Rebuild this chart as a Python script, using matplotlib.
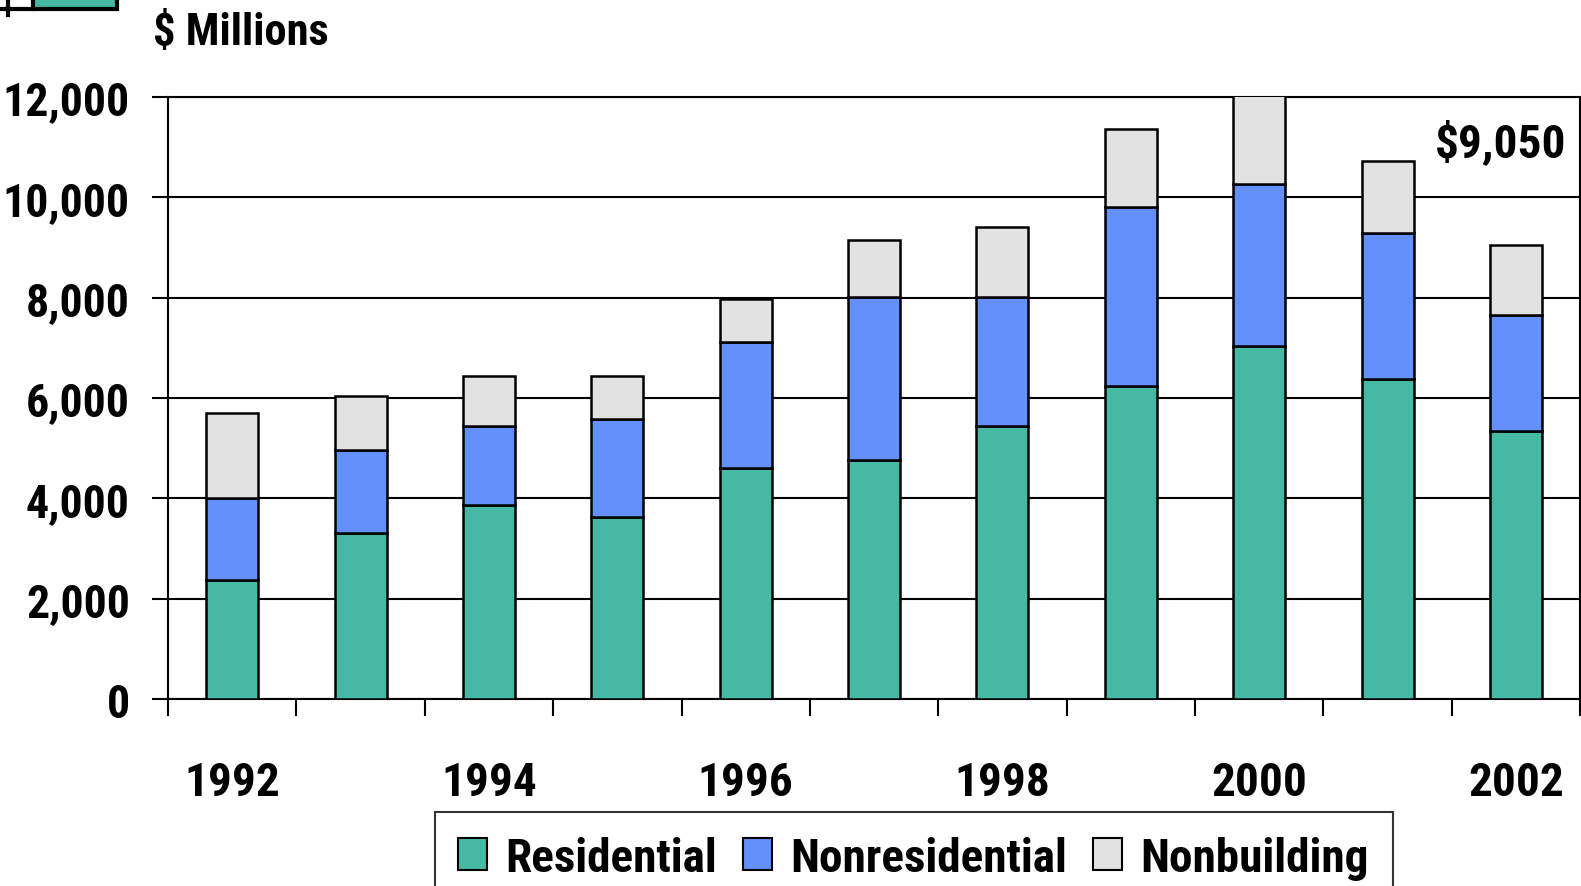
import matplotlib
matplotlib.use("Agg")
import matplotlib.pyplot as plt
from matplotlib.patches import Rectangle
from matplotlib.lines import Line2D
import numpy as np

plt.rcParams['font.family'] = ['Roboto Condensed', 'DejaVu Sans']
plt.rcParams['font.weight'] = 'bold'

# data ($ millions)
years = [1992, 1993, 1994, 1995, 1996, 1997, 1998, 1999, 2000, 2001, 2002]
year_labels = ["1992", "", "1994", "", "1996", "", "1998", "", "2000", "", "2002"]
residential = [2380, 3300, 3860, 3620, 4600, 4760, 5440, 6230, 7030, 6370, 5340]
nonresidential = [1620, 1660, 1590, 1960, 2510, 3250, 2570, 3570, 3230, 2910, 2320]
nonbuilding = [1700, 1090, 980, 850, 870, 1140, 1400, 1560, 2000, 1450, 1390]
yticks = [0, 2000, 4000, 6000, 8000, 10000, 12000]

teal = "#45B9A3"
blue = "#6390FA"
grey = "#E2E2E2"

fig = plt.figure(figsize=(15.81, 8.87), dpi=100)
ax = fig.add_axes([0.1063, 0.2108, 0.8931, 0.6787])

x = np.arange(len(years))
res = np.array(residential)
nonres = np.array(nonresidential)
nonb = np.array(nonbuilding)

w = 0.405
ax.bar(x, res, w, color=teal, edgecolor="black", linewidth=1.8, zorder=3)
ax.bar(x, nonres, w, bottom=res, color=blue, edgecolor="black", linewidth=1.8, zorder=3)
ax.bar(x, nonb, w, bottom=res + nonres, color=grey, edgecolor="black", linewidth=1.8, zorder=3)

ax.set_xlim(-0.5, len(years) - 0.5)
ax.set_ylim(0, 12000)
ax.set_yticks(yticks)
ax.set_yticklabels([f"{v:,}" for v in yticks], fontsize=33)
ax.yaxis.grid(True, color="black", linewidth=1.5, zorder=0)
ax.set_axisbelow(True)

ax.set_xticks(x)
ax.set_xticklabels(year_labels, fontsize=34)
ax.set_xticks(np.arange(len(years) + 1) - 0.5, minor=True)
ax.tick_params(axis="x", which="major", length=0, pad=44)
ax.tick_params(axis="x", which="minor", length=12, width=1.5, direction="out")
ax.tick_params(axis="y", length=11.5, width=1.5, direction="out", pad=16)

for s in ax.spines.values():
    s.set_linewidth(1.5)
    s.set_color("black")

ax.text(0.990, 0.925, "$9,050", transform=ax.transAxes, ha="right", va="center",
        fontsize=34, fontweight="bold")
fig.text(0.0968, 0.963, "$ Millions", ha="left", va="center", fontsize=32, fontweight="bold")

handles = [Rectangle((0, 0), 1, 1, facecolor=c, edgecolor="black", linewidth=1.5)
           for c in (teal, blue, grey)]
leg = fig.legend(handles, ["Residential", "Nonresidential", "Nonbuilding"],
                 loc="upper center", bbox_to_anchor=(0.578, 0.0834), ncol=3,
                 fontsize=34, frameon=True, fancybox=False, edgecolor="black",
                 handlelength=0.6, handleheight=0.65, handletextpad=0.4,
                 columnspacing=0.55, borderpad=0.5, borderaxespad=0)
leg.get_frame().set_linewidth(1.5)

# cropped logo fragment in the top-left corner
fig.patches.append(Rectangle((33 / 1581, 1 - 10 / 887), 84 / 1581, 12 / 887,
                             transform=fig.transFigure, facecolor=teal,
                             edgecolor="black", linewidth=3))
fig.lines.append(Line2D([0, 33 / 1581], [1 - 10 / 887, 1 - 10 / 887],
                        transform=fig.transFigure, color="black", linewidth=3))
fig.lines.append(Line2D([8 / 1581, 8 / 1581], [1, 1 - 16 / 887],
                        transform=fig.transFigure, color="black", linewidth=3))

fig.savefig("out.png", dpi=100)
